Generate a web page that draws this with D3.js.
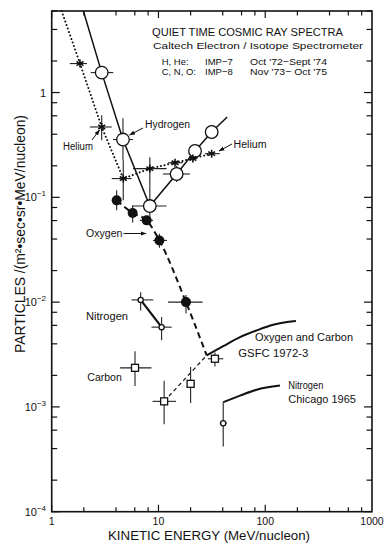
<!DOCTYPE html>
<html><head><meta charset="utf-8">
<script src="https://cdn.jsdelivr.net/npm/d3@7"></script>
<style>html,body{margin:0;padding:0;background:#fff;} svg{display:block;font-family:"Liberation Sans",Arial,sans-serif;}</style>
</head><body><svg id="c" width="390" height="543"></svg>
<script>
// ---------- data (energy in MeV/nucleon, flux in particles/(m2 sec sr MeV/nucleon)) ----------
const xTickValues = [1, 10, 100, 1000];
const xTickLabels = ["1", "10", "100", "1000"];
const yTickValues = [1, 0.1, 0.01, 0.001, 0.0001];
const yTickBase = ["1", "10", "10", "10", "10"];
const yTickExp = ["", "\u22121", "\u22122", "\u22123", "\u22124"];

const hydrogen = [
  {e: 2.94, f: 1.55, xl: 2.32, xh: 3.77},
  {e: 4.65, f: 0.356, xl: 3.75, xh: 5.77, yl: 0.226, yh: 0.569},
  {e: 8.3, f: 0.0826, xl: 5.77, xh: 11.9, yl: 0.063, yh: 0.13},
  {e: 14.8, f: 0.167, xl: 11.0, xh: 19.7, yl: 0.14, yh: 0.2},
  {e: 22, f: 0.277, xl: 20, xh: 24.5},
  {e: 31.5, f: 0.42, xl: 28.5, xh: 35}
];
const hydrogenLine = [[1.98, 6], [2.94, 1.55], [4.65, 0.356], [8.3, 0.0826], [14.8, 0.167], [22, 0.277], [31.5, 0.42], [44, 0.585]];

const helium = [
  {e: 1.84, f: 1.89, xl: 1.48, xh: 2.14},
  {e: 2.94, f: 0.469, xl: 2.28, xh: 3.65, yl: 0.35, yh: 0.607},
  {e: 4.68, f: 0.151, xl: 3.65, xh: 5.6, yl: 0.0936, yh: 0.226},
  {e: 8.3, f: 0.188, xl: 5.77, xh: 11.9, yl: 0.13, yh: 0.241},
  {e: 14.3, f: 0.214, xl: 12.3, xh: 16.9},
  {e: 21, f: 0.235, xl: 19, xh: 23},
  {e: 31.5, f: 0.261, xl: 27.3, xh: 37.5}
];
const heliumLine = [[1.24, 6], [1.84, 1.89], [2.94, 0.469], [4.68, 0.151], [8.3, 0.188], [14.3, 0.214], [21, 0.235], [31.5, 0.261]];

const oxygen = [
  {e: 4.06, f: 0.0936, yl: 0.0754, yh: 0.117},
  {e: 5.73, f: 0.0708, yl: 0.0575, yh: 0.0838},
  {e: 7.75, f: 0.0603, xl: 6.7, xh: 8.9},
  {e: 10.2, f: 0.0388, xl: 8.9, xh: 12, yl: 0.033, yh: 0.045},
  {e: 18.1, f: 0.01, xl: 12.3, xh: 25.9, yl: 0.0078, yh: 0.0117}
];
const oxygenLine = [[4.06, 0.0936], [5.73, 0.0708], [7.75, 0.0603], [10.2, 0.0388], [18.1, 0.01], [28.3, 0.0031]];

const nitrogen = [
  {e: 6.81, f: 0.0105, xl: 5.6, xh: 8.95, yl: 0.00831, yh: 0.0124},
  {e: 10.7, f: 0.00577, xl: 8.6, xh: 13.3, yl: 0.00432, yh: 0.00721}
];

const carbon = [
  {e: 6.03, f: 0.00236, xl: 4.36, xh: 8.6, yl: 0.00158, yh: 0.0034},
  {e: 11.3, f: 0.00113, xl: 8.8, xh: 14.6, yl: 0.000683, yh: 0.00178},
  {e: 20, f: 0.00166, xl: 18.9, xh: 22, yl: 0.00109, yh: 0.00241},
  {e: 33.8, f: 0.00288, xl: 29.1, xh: 40.5, yl: 0.00243, yh: 0.0033}
];
const carbonLine = [[11.3, 0.00113], [28.3, 0.0031]];

const gsfcCurve = [[28.3, 0.0031], [40.4, 0.0038], [58, 0.00463], [83.1, 0.00537], [118.8, 0.00608], [193.8, 0.00659]];
const chicagoPoint = [{e: 40.4, f: 0.000699, xl: 37.5, xh: 43.5, yl: 0.000419, yh: 0.00111}];
const chicagoCurve = [[40.4, 0.00111], [58, 0.00128], [83.1, 0.00146], [137.3, 0.0016]];

// ---------- chart ----------
const svg = d3.select("#c");
const X0 = 51.7, X1 = 372, Y0 = 511.7, Y1 = 11;
const x = d3.scaleLog().domain([1, 1000]).range([X0, X1]);
const y = d3.scaleLog().domain([1e-4, 6]).range([Y0, Y1]);
const ink = "#111";

// ticks
function decadeTicks(lo, hi) {
  const out = [];
  for (let k = lo; k <= hi; k++) {
    const b = Math.pow(10, k);
    out.push({v: b, major: true});
    [2, 4, 6, 8].forEach(m => out.push({v: m * b, major: false}));
  }
  return out;
}
const xt = decadeTicks(0, 2).filter(d => d.v <= 1000);
const yt = decadeTicks(-4, 0).filter(d => d.v <= 6);
const tk = svg.append("g").attr("stroke", ink).attr("stroke-width", 1.2);
xt.forEach(d => {
  const L = d.major ? 7 : 4.5;
  tk.append("line").attr("x1", x(d.v)).attr("x2", x(d.v)).attr("y1", Y0).attr("y2", Y0 - L);
  tk.append("line").attr("x1", x(d.v)).attr("x2", x(d.v)).attr("y1", Y1).attr("y2", Y1 + L);
});
yt.forEach(d => {
  const L = d.major ? 8 : 5.5;
  tk.append("line").attr("y1", y(d.v)).attr("y2", y(d.v)).attr("x1", X0).attr("x2", X0 + L);
  tk.append("line").attr("y1", y(d.v)).attr("y2", y(d.v)).attr("x1", X1).attr("x2", X1 - L);
});
svg.append("rect").attr("x", X0).attr("y", Y1).attr("width", X1 - X0).attr("height", Y0 - Y1)
  .attr("fill", "none").attr("stroke", ink).attr("stroke-width", 1.6);

// tick labels
xTickValues.forEach((v, i) => {
  svg.append("text").attr("x", x(v)).attr("y", 525).attr("text-anchor", "middle")
    .attr("font-size", 10.5).attr("fill", ink).text(xTickLabels[i]);
});
yTickValues.forEach((v, i) => {
  const t = svg.append("text").attr("x", 46).attr("y", y(v) + 4).attr("text-anchor", "end")
    .attr("font-size", 11).attr("fill", ink);
  t.append("tspan").text(yTickBase[i]);
  if (yTickExp[i]) t.append("tspan").attr("dy", -5).attr("font-size", 8).text(yTickExp[i]);
});

// axis titles
svg.append("text").attr("x", 209).attr("y", 540).attr("text-anchor", "middle").attr("font-size", 12.5)
  .attr("fill", ink).attr("textLength", 202).attr("lengthAdjust", "spacingAndGlyphs")
  .text("KINETIC ENERGY  (MeV/nucleon)");
svg.append("text").attr("transform", "translate(25,234) rotate(-90)").attr("text-anchor", "middle")
  .attr("font-size", 14).attr("fill", ink).attr("textLength", 238).attr("lengthAdjust", "spacingAndGlyphs")
  .text("PARTICLES /(m\u00B2\u2022sec\u2022sr\u2022MeV/nucleon)");

// title block
const tb = svg.append("g").attr("fill", ink);
tb.append("text").attr("x", 152).attr("y", 35.5).attr("font-size", 10.5).attr("textLength", 191)
  .attr("lengthAdjust", "spacingAndGlyphs").text("QUIET TIME COSMIC RAY SPECTRA");
tb.append("text").attr("x", 153).attr("y", 48.5).attr("font-size", 9.5).attr("textLength", 210)
  .attr("lengthAdjust", "spacingAndGlyphs").text("Caltech Electron / Isotope Spectrometer");
[["H, He:", "IMP\u22127", "Oct '72\u2212Sept '74", 64.5], ["C, N, O:", "IMP\u22128", "Nov '73\u2212 Oct '75", 74.5]].forEach(r => {
  tb.append("text").attr("x", 161.7).attr("y", r[3]).attr("font-size", 9.5).text(r[0]);
  tb.append("text").attr("x", 205).attr("y", r[3]).attr("font-size", 9.5).text(r[1]);
  tb.append("text").attr("x", 250).attr("y", r[3]).attr("font-size", 9.5).attr("textLength", 77)
    .attr("lengthAdjust", "spacingAndGlyphs").text(r[2]);
});

// line generators
const ln = d3.line().x(d => x(d[0])).y(d => y(d[1]));
const lnSmooth = d3.line().x(d => x(d[0])).y(d => y(d[1])).curve(d3.curveMonotoneX);

const plot = svg.append("g");
plot.append("path").datum(hydrogenLine).attr("d", ln).attr("fill", "none").attr("stroke", ink).attr("stroke-width", 1.5);
plot.append("path").datum(heliumLine).attr("d", ln).attr("fill", "none").attr("stroke", ink).attr("stroke-width", 2)
  .attr("stroke-dasharray", "0.1,3.6").attr("stroke-linecap", "round");
plot.append("path").datum(oxygenLine).attr("d", lnSmooth).attr("fill", "none").attr("stroke", ink).attr("stroke-width", 2)
  .attr("stroke-dasharray", "6,4");
plot.append("path").datum(carbonLine).attr("d", ln).attr("fill", "none").attr("stroke", ink).attr("stroke-width", 1.2)
  .attr("stroke-dasharray", "4,3");
plot.append("path").datum(nitrogen.map(d => [d.e, d.f])).attr("d", ln).attr("fill", "none").attr("stroke", ink).attr("stroke-width", 2.2);
plot.append("path").datum(gsfcCurve).attr("d", lnSmooth).attr("fill", "none").attr("stroke", ink).attr("stroke-width", 2);
plot.append("path").datum(chicagoCurve).attr("d", lnSmooth).attr("fill", "none").attr("stroke", ink).attr("stroke-width", 2);

// error bars
function errBars(data) {
  const g = plot.append("g").attr("stroke", "#222").attr("stroke-width", 1.1);
  data.forEach(d => {
    if (d.xl) g.append("line").attr("x1", x(d.xl)).attr("x2", x(d.xh)).attr("y1", y(d.f)).attr("y2", y(d.f));
    if (d.yl) g.append("line").attr("x1", x(d.e)).attr("x2", x(d.e)).attr("y1", y(d.yl)).attr("y2", y(d.yh));
  });
}
[hydrogen, helium, oxygen, nitrogen, carbon, chicagoPoint].forEach(errBars);

// markers
plot.append("g").selectAll("circle").data(hydrogen).join("circle")
  .attr("cx", d => x(d.e)).attr("cy", d => y(d.f)).attr("r", 6.3)
  .attr("fill", "#fff").attr("stroke", ink).attr("stroke-width", 1.3);
plot.append("g").selectAll("circle").data(oxygen).join("circle")
  .attr("cx", d => x(d.e)).attr("cy", d => y(d.f)).attr("r", 5)
  .attr("fill", ink);
plot.append("g").selectAll("rect").data(carbon).join("rect")
  .attr("x", d => x(d.e) - 3.5).attr("y", d => y(d.f) - 3.5).attr("width", 7).attr("height", 7)
  .attr("fill", "#fff").attr("stroke", ink).attr("stroke-width", 1.3);
const star = d3.symbol().type(d3.symbolAsterisk).size(45);
plot.append("g").selectAll("path").data(helium).join("path")
  .attr("transform", d => `translate(${x(d.e)},${y(d.f)})`).attr("d", star)
  .attr("fill", "none").attr("stroke", ink).attr("stroke-width", 1.6);
plot.append("g").selectAll("circle").data(nitrogen.concat(chicagoPoint)).join("circle")
  .attr("cx", d => x(d.e)).attr("cy", d => y(d.f)).attr("r", 2.6)
  .attr("fill", "#fff").attr("stroke", ink).attr("stroke-width", 1.3);

// annotations
svg.append("defs").append("marker").attr("id", "ah").attr("viewBox", "0 0 10 10").attr("refX", 9).attr("refY", 5)
  .attr("markerWidth", 6).attr("markerHeight", 6).attr("orient", "auto")
  .append("path").attr("d", "M0,1.5L10,5L0,8.5z").attr("fill", ink);
const ann = svg.append("g").attr("fill", ink).attr("font-size", 10);
function label(t, xx, yy, w) {
  const e = ann.append("text").attr("x", xx).attr("y", yy).text(t);
  if (w) e.attr("textLength", w).attr("lengthAdjust", "spacingAndGlyphs");
}
function arrow(x1, y1, x2, y2) {
  ann.append("line").attr("x1", x1).attr("y1", y1).attr("x2", x2).attr("y2", y2)
    .attr("stroke", ink).attr("stroke-width", 1).attr("marker-end", "url(#ah)");
}
label("Hydrogen", 145, 127.5, 45); arrow(143, 128, 129.5, 135);
label("Helium", 63, 149.5, 30); arrow(92, 140, 99.5, 130);
label("Helium", 233.5, 147.5, 33); arrow(232, 144, 219, 151);
label("Oxygen", 86, 237, 36.5); arrow(123.5, 233.5, 146, 233.5);
label("Nitrogen", 86, 319.5, 42);
label("Carbon", 87.3, 381, 34.5);
label("Oxygen and Carbon", 255, 341, 98);
label("GSFC 1972-3", 238.3, 356.5, 70);
label("Nitrogen", 288.3, 388.5, 35);
label("Chicago 1965", 288.3, 403, 67.5);
</script></body></html>
